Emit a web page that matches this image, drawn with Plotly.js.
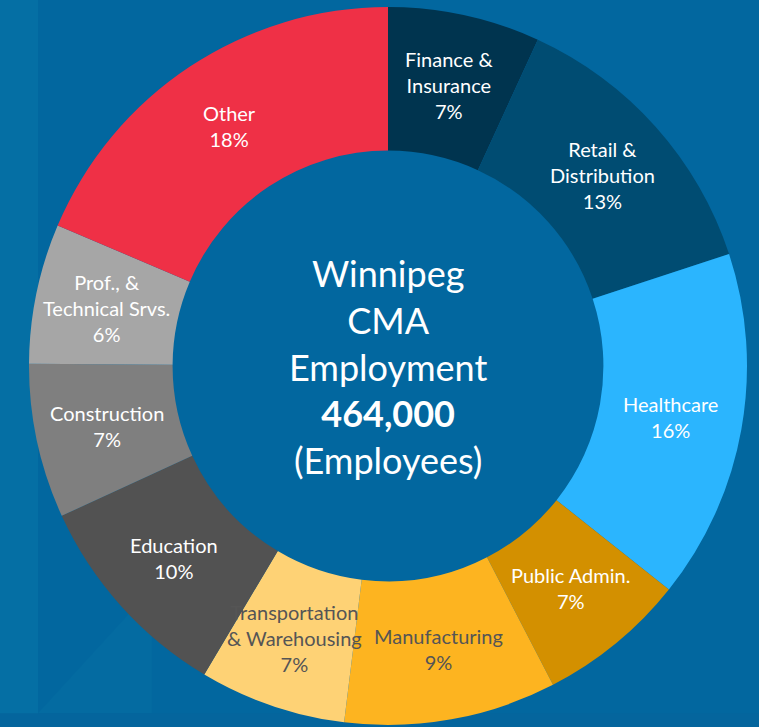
<!DOCTYPE html>
<html>
<head>
<meta charset="utf-8">
<script src="https://cdn.plot.ly/plotly-3.0.1.min.js"></script>
<style>html,body{margin:0;padding:0;background:#02679f;}#chart{width:759px;height:727px;}</style>
</head>
<body>
<div id="chart"></div>
<script>
const categories = ["Finance &<br>Insurance", "Retail &<br>Distribution", "Healthcare", "Public Admin.", "Manufacturing", "Transportation<br>& Warehousing", "Education", "Construction", "Prof., &<br>Technical Srvs.", "Other"];
// slice sizes (share of employment, %)
const shares = [6.85, 13.1, 15.75, 6.7, 9.55, 6.6, 9.6, 6.95, 6.3, 18.6];
// percentages printed on the chart
const pctLabels = ["7%", "13%", "16%", "7%", "9%", "7%", "10%", "7%", "6%", "18%"];
const sliceColors = ["#00344f", "#004c72", "#2bb5fe", "#d39000", "#fdb420", "#fed275", "#525252", "#7f7f7f", "#a6a6a6", "#ef3046"];
const labelColors = ["#ffffff", "#ffffff", "#ffffff", "#ffffff", "#555555", "#555555", "#ffffff", "#ffffff", "#ffffff", "#ffffff"];
const centerTitle = "Winnipeg<br>CMA<br>Employment<br><b>464,000</b><br>(Employees)";

const FONT = "'Source Sans Pro', Lato, 'Noto Sans', sans-serif";
const W = 759, H = 727;
const HOLE = 0.6;
const domX = [29/W, 747/W], domY = [2/H, 720/H];

const trace = {
  type: "pie",
  labels: categories,
  values: shares,
  sort: false,
  direction: "clockwise",
  rotation: 0,
  hole: HOLE,
  marker: {colors: sliceColors, line: {width: 0}},
  textinfo: "none",
  hoverinfo: "label",
  showlegend: false,
  domain: {x: domX, y: domY}
};

// slice label annotations placed at each slice's angular midpoint, mid-ring
const total = shares.reduce((a, b) => a + b, 0);
const cxPx = (domX[0] + domX[1]) / 2 * W;
const cyPx = H - (domY[0] + domY[1]) / 2 * H;
const rOut = Math.min((domX[1] - domX[0]) * W, (domY[1] - domY[0]) * H) / 2;
const rMid = rOut * (1 + HOLE) / 2;
let cum = 0;
const sliceLabels = shares.map((v, i) => {
  const mid = (cum + v / 2) / total;
  cum += v;
  const th = mid * 2 * Math.PI;
  const px = cxPx + rMid * Math.sin(th);
  const py = cyPx - rMid * Math.cos(th);
  return {
    text: categories[i] + "<br>" + pctLabels[i],
    x: px / W, y: 1 - py / H, xref: "paper", yref: "paper",
    showarrow: false, align: "center", xanchor: "center", yanchor: "middle",
    font: {family: FONT, size: 20, color: labelColors[i]}
  };
});

const layout = {
  width: W, height: H,
  margin: {l: 0, r: 0, t: 0, b: 0},
  paper_bgcolor: "#02679f",
  plot_bgcolor: "#02679f",
  shapes: [
    {type: "rect", xref: "paper", yref: "paper", x0: 0, x1: 38/W, y0: 0, y1: 1, fillcolor: "#056fa4", line: {width: 0}, layer: "below"},
    {type: "path", xref: "paper", yref: "paper", path: "M 0.05 0.019 L 0.2 0.19 L 0.2 0.019 Z", fillcolor: "#046ba1", line: {width: 0}, layer: "below"},
    {type: "rect", xref: "paper", yref: "paper", x0: 0, x1: 1, y0: 0, y1: 0.019, fillcolor: "#04659d", line: {width: 0}, layer: "below"}
  ],
  annotations: sliceLabels.concat([{
    text: centerTitle,
    x: cxPx / W, y: 1 - cyPx / H, xref: "paper", yref: "paper",
    showarrow: false,
    font: {family: FONT, size: 36, color: "#ffffff"},
    align: "center"
  }])
};

Plotly.newPlot("chart", [trace], layout, {displayModeBar: false, staticPlot: true});
</script>
</body>
</html>
